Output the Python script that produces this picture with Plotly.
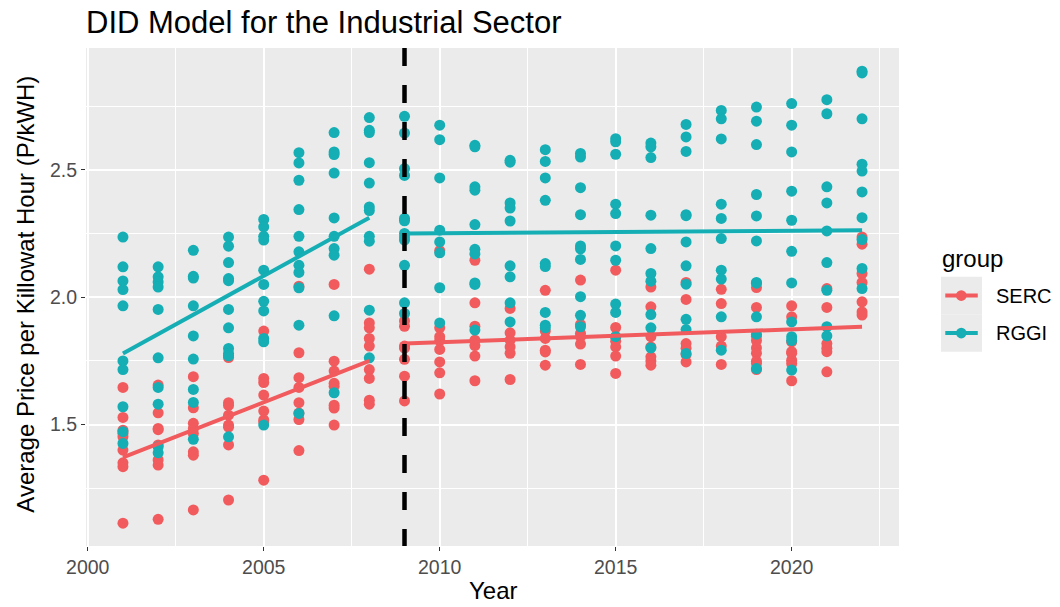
import plotly.graph_objects as go

# ---- data -------------------------------------------------------------
years = list(range(2001, 2023))
groups = ["SERC", "RGGI"]
colors = {"SERC": "#F15B5E", "RGGI": "#14AEB4"}

# average industrial price per state, one list per year (2001..2022)
serc_price = [
    [1.646, 1.528, 1.478, 1.465, 1.452, 1.400, 1.350, 1.335, 1.113],
    [1.655, 1.546, 1.485, 1.480, 1.420, 1.361, 1.341, 1.128],
    [1.688, 1.566, 1.505, 1.485, 1.465, 1.393, 1.380, 1.165],
    [1.763, 1.586, 1.575, 1.537, 1.498, 1.490, 1.420, 1.204],
    [1.867, 1.681, 1.665, 1.616, 1.553, 1.518, 1.510, 1.282],
    [2.043, 1.782, 1.684, 1.646, 1.586, 1.545, 1.520, 1.398],
    [2.050, 1.749, 1.710, 1.662, 1.650, 1.576, 1.565, 1.498],
    [2.110, 1.899, 1.880, 1.838, 1.808, 1.716, 1.681, 1.596, 1.580],
    [2.236, 1.907, 1.886, 1.808, 1.800, 1.756, 1.690, 1.593],
    [2.183, 1.880, 1.845, 1.830, 1.795, 1.746, 1.703, 1.620],
    [2.145, 1.978, 1.886, 1.831, 1.810, 1.769, 1.672],
    [1.956, 1.860, 1.831, 1.805, 1.780, 1.677],
    [2.027, 1.867, 1.838, 1.792, 1.785, 1.733],
    [2.067, 1.893, 1.858, 1.845, 1.816, 1.736],
    [2.106, 1.881, 1.845, 1.827, 1.805, 1.769, 1.701],
    [2.040, 1.962, 1.845, 1.805, 1.766, 1.750, 1.733],
    [2.058, 1.991, 1.818, 1.800, 1.775, 1.746],
    [2.031, 1.975, 1.845, 1.808, 1.736],
    [2.038, 1.960, 1.847, 1.830, 1.801, 1.780, 1.749, 1.740, 1.716],
    [1.966, 1.923, 1.825, 1.786, 1.780, 1.753, 1.740, 1.672],
    [2.034, 1.960, 1.818, 1.800, 1.786, 1.707],
    [2.236, 2.208, 2.093, 2.058, 1.982, 1.942, 1.930],
]

rggi_price = [
    [2.236, 2.119, 2.064, 2.030, 1.966, 1.750, 1.716, 1.570, 1.472, 1.426],
    [2.119, 2.080, 2.060, 2.040, 1.952, 1.762, 1.646, 1.580, 1.413, 1.389],
    [2.184, 2.082, 2.075, 1.966, 1.848, 1.757, 1.638, 1.587, 1.442],
    [2.236, 2.200, 2.136, 2.073, 2.065, 1.952, 1.880, 1.799, 1.779, 1.770, 1.452],
    [2.305, 2.276, 2.239, 2.224, 2.106, 2.050, 1.984, 1.946, 1.838, 1.825, 1.498],
    [2.567, 2.527, 2.459, 2.344, 2.239, 2.178, 2.125, 2.097, 2.037, 1.890, 1.544],
    [2.646, 2.570, 2.560, 2.487, 2.311, 2.239, 2.191, 2.165, 1.927, 1.625],
    [2.705, 2.655, 2.646, 2.528, 2.448, 2.354, 2.340, 2.239, 2.220, 1.949, 1.762],
    [2.710, 2.644, 2.505, 2.478, 2.309, 2.300, 2.250, 2.224, 2.125, 1.978, 1.936],
    [2.675, 2.618, 2.468, 2.263, 2.217, 2.174, 2.037, 1.899],
    [2.596, 2.590, 2.433, 2.420, 2.285, 2.188, 2.170, 2.056, 2.050, 1.871],
    [2.537, 2.530, 2.370, 2.350, 2.299, 2.123, 2.080, 1.978, 1.903],
    [2.579, 2.533, 2.468, 2.380, 2.132, 2.120, 1.940, 1.890, 1.880],
    [2.564, 2.550, 2.430, 2.324, 2.201, 2.190, 2.148, 2.002, 1.929, 1.884],
    [2.622, 2.610, 2.561, 2.365, 2.328, 2.201, 2.145, 1.973, 1.940, 1.845],
    [2.605, 2.590, 2.548, 2.322, 2.191, 2.093, 2.063, 1.932, 1.880, 1.801],
    [2.678, 2.629, 2.572, 2.324, 2.320, 2.217, 2.123, 2.051, 1.913, 1.873, 1.779],
    [2.733, 2.700, 2.621, 2.365, 2.309, 2.230, 2.106, 2.071, 1.923, 1.792],
    [2.746, 2.691, 2.599, 2.403, 2.319, 2.221, 2.058, 2.055, 1.923, 1.855, 1.720],
    [2.760, 2.675, 2.570, 2.416, 2.302, 2.180, 2.056, 1.903, 1.845, 1.830, 1.714],
    [2.775, 2.720, 2.433, 2.370, 2.260, 2.136, 2.027, 1.884, 1.848],
    [2.887, 2.880, 2.700, 2.522, 2.495, 2.413, 2.312, 2.226, 2.113, 2.034],
]

# fitted DID trend lines, before and after the 2009 treatment year
treatment_year = 2009
fit_pre_years = [2001, 2008]
fit_post_years = [2009, 2022]
serc_fit_pre = [1.371, 1.750]
rggi_fit_pre = [1.779, 2.312]
serc_fit_post = [1.818, 1.884]
rggi_fit_post = [2.250, 2.263]

x_ticks = [2000, 2005, 2010, 2015, 2020]
y_ticks = [1.5, 2.0, 2.5]

# ---- figure -----------------------------------------------------------
FONT = "Liberation Sans, Arial, Helvetica, sans-serif"
W, H = 1060, 607
M_L, M_R, M_T, M_B = 85.5, 161.3, 47.7, 61.0

fig = go.Figure()

prices = {"SERC": serc_price, "RGGI": rggi_price}
fits = {
    "SERC": (serc_fit_pre, serc_fit_post),
    "RGGI": (rggi_fit_pre, rggi_fit_post),
}

for g in groups:
    xs, ys = [], []
    for yr, vals in zip(years, prices[g]):
        xs.extend([yr] * len(vals))
        ys.extend(vals)
    fig.add_trace(go.Scatter(
        x=xs, y=ys, mode="markers", name=g, showlegend=False,
        marker=dict(color=colors[g], size=11, line=dict(width=0)),
    ))

for g in groups:
    pre, post = fits[g]
    for fx, fy in ((fit_pre_years, pre), (fit_post_years, post)):
        fig.add_trace(go.Scatter(
            x=fx, y=fy, mode="lines", showlegend=False,
            line=dict(color=colors[g], width=4),
        ))

# dashed treatment line
fig.add_shape(
    type="line", xref="x", yref="paper",
    x0=treatment_year, x1=treatment_year, y0=1, y1=0,
    line=dict(color="black", width=4.5, dash="18px,19px"), layer="above",
)

# ---- helpers for pixel placement of titles and legend -----------------
plot_w = W - M_L - M_R
plot_h = H - M_T - M_B


def px(x):
    return (x - M_L) / plot_w


def py(y):
    return 1 - (y - M_T) / plot_h


# axis titles
fig.add_annotation(
    text="Year", x=px(493), y=py(590.5), xref="paper", yref="paper",
    xanchor="center", yanchor="middle", showarrow=False,
    font=dict(family=FONT, size=24, color="black"),
)
fig.add_annotation(
    text="Average Price per Killowat Hour (P/kWH)", textangle=-90,
    x=px(25), y=py(294), xref="paper", yref="paper",
    xanchor="center", yanchor="middle", showarrow=False,
    font=dict(family=FONT, size=24, color="black"),
)

# legend
fig.add_annotation(
    text="group", x=px(940), y=py(258), xref="paper", yref="paper",
    xanchor="left", yanchor="middle", showarrow=False,
    font=dict(family=FONT, size=24, color="black"),
)
key_x0, key_x1 = 940.7, 981.7
key_top = 276.7
key_h = 37.5
for i, g in enumerate(groups):
    y0 = key_top + i * key_h
    yc = y0 + key_h / 2
    fig.add_shape(type="rect", xref="paper", yref="paper",
                  x0=px(key_x0), x1=px(key_x1), y0=py(y0 + key_h), y1=py(y0),
                  fillcolor="#EBEBEB", line=dict(width=0), layer="above")
    fig.add_shape(type="line", xref="paper", yref="paper",
                  x0=px(945), x1=px(977.5), y0=py(yc), y1=py(yc),
                  line=dict(color=colors[g], width=4), layer="above")
    r = 5.3
    fig.add_shape(type="circle", xref="paper", yref="paper",
                  x0=px(961 - r), x1=px(961 + r), y0=py(yc + r), y1=py(yc - r),
                  fillcolor=colors[g], line=dict(width=0), layer="above")
    fig.add_annotation(
        text=g, x=px(994), y=py(yc), xref="paper", yref="paper",
        xanchor="left", yanchor="middle", showarrow=False,
        font=dict(family=FONT, size=20, color="black"),
    )

fig.update_layout(
    width=W, height=H,
    margin=dict(l=M_L, r=M_R, t=M_T, b=M_B, pad=0),
    paper_bgcolor="white",
    plot_bgcolor="#EBEBEB",
    font=dict(family=FONT, color="black"),
    showlegend=False,
    title=dict(
        text="DID Model for the Industrial Sector",
        x=86 / W, xref="container", xanchor="left",
        y=1 - 22 / H, yref="container", yanchor="middle",
        font=dict(family=FONT, size=31, color="black"),
    ),
    xaxis=dict(
        range=[1999.95, 2023.05],
        tickvals=x_ticks, ticktext=[str(t) for t in x_ticks],
        showgrid=True, gridcolor="white", gridwidth=1.6,
        minor=dict(tickvals=[2002.5, 2007.5, 2012.5, 2017.5, 2022.5],
                   showgrid=True, gridcolor="white", gridwidth=0.8, ticks=""),
        ticks="outside", ticklen=4, tickcolor="#333333", tickwidth=1.2,
        tickfont=dict(family=FONT, size=19.5, color="#4D4D4D"),
        zeroline=False, showline=False,
    ),
    yaxis=dict(
        range=[1.0235, 2.978],
        tickvals=y_ticks, ticktext=[f"{t:.1f}" for t in y_ticks],
        showgrid=True, gridcolor="white", gridwidth=1.6,
        minor=dict(tickvals=[1.25, 1.75, 2.25, 2.75],
                   showgrid=True, gridcolor="white", gridwidth=0.8, ticks=""),
        ticks="outside", ticklen=4, tickcolor="#333333", tickwidth=1.2,
        tickfont=dict(family=FONT, size=19.5, color="#4D4D4D"),
        zeroline=False, showline=False,
    ),
)

fig.write_html("out.html")
